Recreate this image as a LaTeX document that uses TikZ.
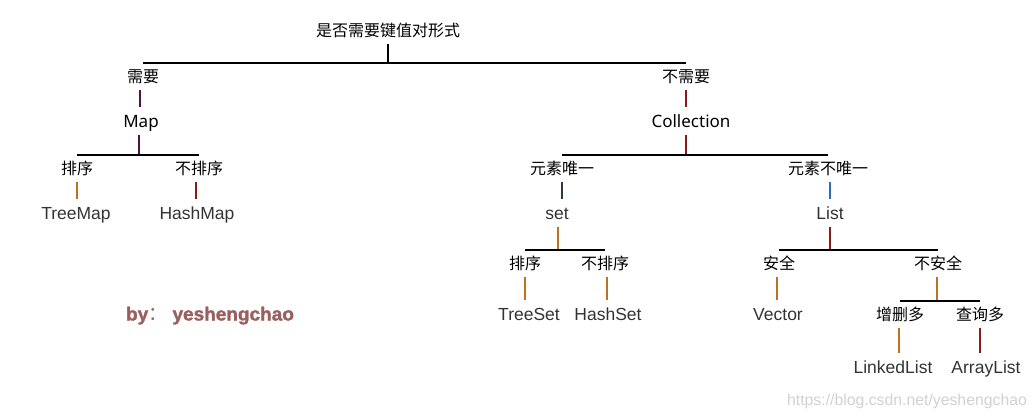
\documentclass[tikz,border=0pt]{standalone}
\usepackage{fontspec}
\setmainfont{Liberation Sans}
\newfontfamily\cjk{Noto Sans CJK SC}
\newfontfamily\msfont{Noto Sans}
\newfontfamily\sigfont[FakeBold=1.6]{Liberation Sans Bold}
\definecolor{txtgray}{HTML}{333333}
\definecolor{plum}{HTML}{4A1448}
\definecolor{dred}{HTML}{8B1A1A}
\definecolor{ochre}{HTML}{C0711E}
\definecolor{steel}{HTML}{2A6DB5}
\definecolor{navy}{HTML}{2B3A4A}
\definecolor{rose}{HTML}{9A6060}
\begin{document}
\begin{tikzpicture}[x=1pt,y=-1pt,
    every node/.style={text height=15pt,text depth=0pt,inner sep=3pt},
    zh/.style={font=\cjk\fontsize{16}{18}\selectfont},
    en/.style={font=\fontsize{17.5}{20}\selectfont,text=txtgray},
    ms/.style={font=\msfont\fontsize{17}{20}\selectfont},
    bar/.style={line width=2.2pt},
    stem/.style={line width=1.2pt,shorten <=4pt,shorten >=2pt}]
  \useasboundingbox (0,0) rectangle (1036,416);
  \draw
    (388,29) node[zh] (root){是否需要键值对形式}
    (143,75) node[zh] (need){需要}
    (686,75) node[zh] (noneed){不需要}
    (141,120) node[ms] (map){Map}
    (691,120) node[ms] (coll){Collection}
    (77,167) node[zh] (msort){排序}
    (199,167) node[zh] (mnosort){不排序}
    (76,212) node[en] (treemap){TreeMap}
    (197,212) node[en] (hashmap){HashMap}
    (562,167) node[zh] (uniq){元素唯一}
    (828,167) node[zh] (nonuniq){元素不唯一}
    (557,212) node[en] (set){set}
    (830,212) node[en] (list){List}
    (525,262) node[zh] (ssort){排序}
    (605,262) node[zh] (snosort){不排序}
    (529,313) node[en] (treeset){TreeSet}
    (608,313) node[en] (hashset){HashSet}
    (779,262) node[zh] (safe){安全}
    (938,262) node[zh] (unsafe){不安全}
    (778,313) node[en] (vector){Vector}
    (900,313) node[zh] (addel){增删多}
    (980,313) node[zh] (query){查询多}
    (893,366) node[en] (linkedlist){LinkedList}
    (986,366) node[en] (arraylist){ArrayList};
  \begin{scope}[bar]
    \draw ([yshift=1pt]need.north) to ([yshift=1pt]noneed.north);
    \draw ([yshift=1pt]msort.north) to ([yshift=1pt]mnosort.north);
    \draw ([yshift=1pt]uniq.north) to ([yshift=1pt]nonuniq.north);
    \draw ([yshift=1pt]ssort.north) to ([yshift=1pt]snosort.north);
    \draw ([yshift=1pt]safe.north) to ([yshift=1pt]unsafe.north);
    \draw ([yshift=1pt]addel.north) to ([yshift=1pt]query.north);
  \end{scope}
  \begin{scope}[stem]
    \draw (root.south) to (root.south |- need.north);
    \draw[plum] ([xshift=-3pt]need.south) to ([xshift=-3pt]need.south |- map.north);
    \draw[plum] ([xshift=-2pt]map.south) to ([xshift=-2pt]map.south |- msort.north);
    \draw[ochre] (msort.south) to (msort.south |- treemap.north);
    \draw[dred] ([xshift=-3pt]mnosort.south) to ([xshift=-3pt]mnosort.south |- hashmap.north);
    \draw[dred] (noneed.south) to (noneed.south |- coll.north);
    \draw[dred] (noneed |- coll.south) to (noneed |- uniq.north);
    \draw[navy] (uniq.south) to (uniq.south |- set.north);
    \draw[steel] ([xshift=2pt]nonuniq.south) to ([xshift=2pt]nonuniq.south |- list.north);
    \draw[ochre] ([xshift=1pt]set.south) to ([xshift=1pt]set.south |- ssort.north);
    \draw[dred] (list.south) to (list.south |- safe.north);
    \draw[ochre] (ssort.south) to (ssort.south |- treeset.north);
    \draw[ochre] ([xshift=2pt]snosort.south) to ([xshift=2pt]snosort.south |- hashset.north);
    \draw[ochre] ([xshift=-2pt]safe.south) to ([xshift=-2pt]safe.south |- vector.north);
    \draw[ochre] ([xshift=-1pt]unsafe.south) to ([xshift=-1pt]unsafe.south |- addel.north);
    \draw[ochre] ([xshift=-1pt]addel.south) to ([xshift=-1pt]addel.south |- linkedlist.north);
    \draw[dred] (query.south) to (query.south |- arraylist.north);
  \end{scope}
  \node[font=\sigfont\fontsize{19}{22}\selectfont,text=rose] (sig) at (210,313) {by{\cjk ：} yeshengchao};
  \node[font=\fontsize{15.8}{18}\selectfont,text=black!18] (mark) at (907,398) {https://blog.csdn.net/yeshengchao};
\end{tikzpicture}
\end{document}
